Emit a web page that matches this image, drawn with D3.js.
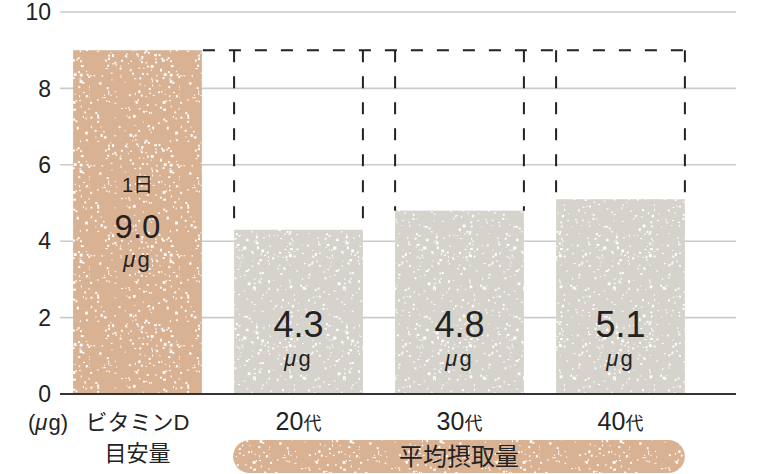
<!DOCTYPE html>
<html lang="ja">
<head>
    <meta charset="UTF-8">
    <script src="https://d3js.org/d3.v7.min.js"></script>
    <style>
        body {margin: 0; background-color: #fff}
        svg {display: block; font-family: "Liberation Sans", "Noto Sans CJK JP", sans-serif;}
    </style>
</head>
<body>
<svg class="chart" width="762" height="474"></svg>
<script type="text/javascript">
    // chart data
    const categories = ['ビタミンD目安量', '20代', '30代', '40代'];
    const ageNums = ['', '20', '30', '40'];
    const values = [9.0, 4.3, 4.8, 5.1];
    const labels = ['9.0', '4.3', '4.8', '5.1'];
    const yTicks = [0, 2, 4, 6, 8, 10];
    const target = 9.0;
    const groupLabel = '平均摂取量';

    let svg = d3.select('.chart');
    let ink = '#222';

    let x = d3.scaleBand()
        .domain(categories)
        .range([57, 701])
        .paddingInner(0.2)
        .paddingOuter(0.1);

    let y = d3.scaleLinear()
        .domain([0, 10])
        .range([394, 12]);

    // speckle textures (seeded so it looks the same every time)
    let seed = 7;
    function rnd() {
        seed = (seed * 16807) % 2147483647;
        return (seed - 1) / 2147483646;
    }
    let defs = svg.append('defs');
    function speckle(id, base) {
        let p = defs.append('pattern')
            .attr('id', id)
            .attr('patternUnits', 'userSpaceOnUse')
            .attr('width', 90).attr('height', 90);
        p.append('rect').attr('width', 90).attr('height', 90).attr('fill', base);
        for (let i = 0; i < 190; i++) {
            let s = rnd() < 0.85 ? 1.1 : 2;
            p.append('rect')
                .attr('x', rnd() * 90)
                .attr('y', rnd() * 90)
                .attr('width', rnd() < 0.5 ? s : s + 0.8)
                .attr('height', rnd() < 0.5 ? s : s + 0.8)
                .attr('fill', '#fff');
        }
    }
    speckle('orange', '#d9b294');
    speckle('gray', '#d6d3cc');

    // grid
    svg.append('g').selectAll('line').data(yTicks.filter(d => d > 0)).enter().append('line')
        .attr('x1', 60).attr('x2', 736)
        .attr('y1', d => y(d)).attr('y2', d => y(d))
        .attr('stroke', '#cbcbcb').attr('stroke-width', 1.6);

    svg.append('g').selectAll('text').data(yTicks).enter().append('text')
        .attr('x', 51)
        .attr('y', d => y(d))
        .attr('dy', '0.36em')
        .attr('text-anchor', 'end')
        .attr('font-size', 23)
        .attr('fill', ink)
        .text(d => d);

    // bars
    svg.append('g').selectAll('rect').data(values).enter().append('rect')
        .attr('x', (d, i) => x(categories[i]))
        .attr('y', d => y(d))
        .attr('width', x.bandwidth())
        .attr('height', d => y(0) - y(d))
        .attr('fill', (d, i) => i === 0 ? 'url(#orange)' : 'url(#gray)');

    // dashed outline up to the target
    let dash = svg.append('g')
        .attr('fill', 'none')
        .attr('stroke', ink)
        .attr('stroke-width', 2)
        .attr('stroke-dasharray', '12,14');
    dash.append('line')
        .attr('x1', x(categories[0]) + x.bandwidth() + 1)
        .attr('x2', x(categories[3]) + x.bandwidth())
        .attr('y1', y(target)).attr('y2', y(target));
    values.slice(1).forEach((v, k) => {
        let c = categories[k + 1];
        [x(c), x(c) + x.bandwidth()].forEach(xx => {
            dash.append('line')
                .attr('x1', xx).attr('x2', xx)
                .attr('y1', y(target)).attr('y2', y(v));
        });
    });

    // baseline
    svg.append('line')
        .attr('x1', 60).attr('x2', 736)
        .attr('y1', y(0)).attr('y2', y(0))
        .attr('stroke', '#333').attr('stroke-width', 2);

    // value labels: number and unit stacked in one text block
    let cx = c => x(c) + x.bandwidth() / 2;
    values.forEach((v, i) => {
        let px = cx(categories[i]);
        let base = i === 0 ? 238 : 337;
        let t = svg.append('text')
            .attr('text-anchor', 'middle')
            .attr('fill', ink);
        if (i === 0) {
            t.append('tspan').attr('x', px).attr('y', 192)
                .attr('font-size', 20).text('1日');
        }
        t.append('tspan').attr('x', px).attr('y', base)
            .attr('font-size', i === 0 ? 33 : 36)
            .text(labels[i]);
        t.append('tspan').attr('x', px - 1).attr('y', base + 29)
            .attr('font-size', 22).attr('font-style', 'italic').text('μ');
        t.append('tspan').attr('dx', 2)
            .attr('font-size', 22).text('g');
    });

    // category labels
    let mu = svg.append('text')
        .attr('x', 48).attr('y', 430)
        .attr('text-anchor', 'middle').attr('font-size', 22).attr('fill', ink);
    mu.append('tspan').text('(');
    mu.append('tspan').attr('font-style', 'italic').text('μ');
    mu.append('tspan').attr('dx', 1).text('g)');

    let first = svg.append('text')
        .attr('text-anchor', 'middle').attr('font-size', 22).attr('fill', ink);
    first.append('tspan').attr('x', cx(categories[0])).attr('y', 430).text('ビタミンD');
    first.append('tspan').attr('x', cx(categories[0])).attr('y', 461).text('目安量');

    categories.slice(1).forEach((c, k) => {
        let t = svg.append('text')
            .attr('x', cx(c)).attr('y', 430)
            .attr('text-anchor', 'middle').attr('fill', ink);
        t.append('tspan').attr('font-size', 25).text(ageNums[k + 1]);
        t.append('tspan').attr('font-size', 18).text('代');
    });

    // group pill
    let px0 = x(categories[1]) - 1;
    let px1 = x(categories[3]) + x.bandwidth();
    svg.append('rect')
        .attr('x', px0).attr('y', 440)
        .attr('width', px1 - px0).attr('height', 33)
        .attr('rx', 16.5)
        .attr('fill', 'url(#orange)');
    svg.append('text')
        .attr('x', (px0 + px1) / 2).attr('y', 465)
        .attr('text-anchor', 'middle').attr('font-size', 24).attr('fill', ink)
        .text(groupLabel);
</script>
</body>
</html>
